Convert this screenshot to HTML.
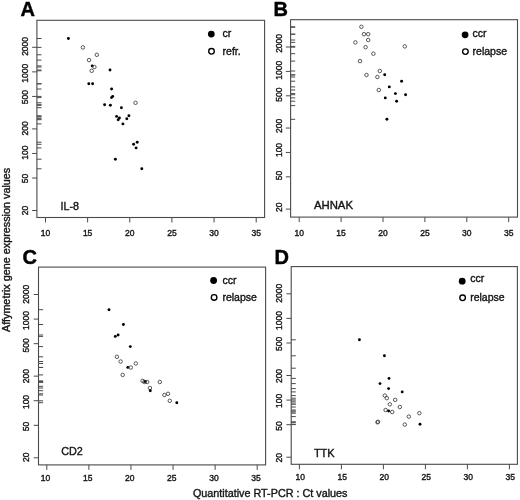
<!DOCTYPE html>
<html><head><meta charset="utf-8"><title>Figure</title>
<style>html,body{margin:0;padding:0;background:#fff;}svg{display:block;will-change:transform;}text{font-family:"Liberation Sans",sans-serif;fill:#161616;stroke:#161616;stroke-width:0.38px;}</style>
</head><body>
<svg width="520" height="500" viewBox="0 0 520 500">
<rect x="0" y="0" width="520" height="500" fill="#fff"/>
<g><rect x="36.9" y="20.3" width="227.7" height="197.2" fill="none" stroke="#4a4a4a" stroke-width="1.1"/><path d="M45.5 217.5V222.5M87.64 217.5V222.5M129.78 217.5V222.5M171.92 217.5V222.5M214.06 217.5V222.5M256.2 217.5V222.5M36.9 47.3H32.1M36.9 71.86H32.1M36.9 96.43H32.1M36.9 128.9H32.1M36.9 153.46H32.1M36.9 178.03H32.1M36.9 210.5H32.1M36.9 38.5H41.5M36.9 47.4H41.5M36.9 54.8H41.5M36.9 60.1H41.5M36.9 65.9H41.5M36.9 67H41.5M36.9 70.8H41.5M36.9 70H41.5M36.9 83.8H41.5M36.9 83.8H41.5M36.9 89H41.5M36.9 96.4H41.5M36.9 97.6H41.5M36.9 104.7H41.5M36.9 105.3H41.5M36.9 102.8H41.5M36.9 107.7H41.5M36.9 116.4H41.5M36.9 118H41.5M36.9 119.7H41.5M36.9 115.8H41.5M36.9 118.8H41.5M36.9 123.9H41.5M36.9 142.2H41.5M36.9 144.3H41.5M36.9 147.9H41.5M36.9 159.2H41.5M36.9 168.8H41.5" stroke="#4a4a4a" stroke-width="1.0" fill="none"/><text x="45.5" y="236.4" font-size="8.5" text-anchor="middle">10</text><text x="87.64" y="236.4" font-size="8.5" text-anchor="middle">15</text><text x="129.78" y="236.4" font-size="8.5" text-anchor="middle">20</text><text x="171.92" y="236.4" font-size="8.5" text-anchor="middle">25</text><text x="214.06" y="236.4" font-size="8.5" text-anchor="middle">30</text><text x="256.2" y="236.4" font-size="8.5" text-anchor="middle">35</text><text transform="translate(28.2 46.4) rotate(-90)" font-size="8.5" text-anchor="middle">2000</text><text transform="translate(28.2 73.2) rotate(-90)" font-size="8.5" text-anchor="middle">1000</text><text transform="translate(28.2 97.1) rotate(-90)" font-size="8.5" text-anchor="middle">500</text><text transform="translate(28.2 128.4) rotate(-90)" font-size="8.5" text-anchor="middle">200</text><text transform="translate(28.2 152.6) rotate(-90)" font-size="8.5" text-anchor="middle">100</text><text transform="translate(28.2 178.5) rotate(-90)" font-size="8.5" text-anchor="middle">50</text><text transform="translate(28.2 210.4) rotate(-90)" font-size="8.5" text-anchor="middle">20</text><circle cx="68.4" cy="38.5" r="1.45" fill="#000"/><circle cx="82.9" cy="47.4" r="1.75" fill="none" stroke="#3c3c3c" stroke-width="0.85"/><circle cx="96.8" cy="54.8" r="1.75" fill="none" stroke="#3c3c3c" stroke-width="0.85"/><circle cx="89" cy="60.1" r="1.75" fill="none" stroke="#3c3c3c" stroke-width="0.85"/><circle cx="92.2" cy="65.9" r="1.45" fill="#000"/><circle cx="94.4" cy="67" r="1.75" fill="none" stroke="#3c3c3c" stroke-width="0.85"/><circle cx="91.7" cy="70.8" r="1.75" fill="none" stroke="#3c3c3c" stroke-width="0.85"/><circle cx="110" cy="70" r="1.45" fill="#000"/><circle cx="88.8" cy="83.8" r="1.45" fill="#000"/><circle cx="92.6" cy="83.8" r="1.45" fill="#000"/><circle cx="111.6" cy="89" r="1.45" fill="#000"/><circle cx="112.7" cy="96.4" r="1.45" fill="#000"/><circle cx="111.5" cy="97.6" r="1.45" fill="#000"/><circle cx="104.6" cy="104.7" r="1.45" fill="#000"/><circle cx="110.4" cy="105.3" r="1.45" fill="#000"/><circle cx="135.5" cy="102.8" r="1.75" fill="none" stroke="#3c3c3c" stroke-width="0.85"/><circle cx="121.4" cy="107.7" r="1.45" fill="#000"/><circle cx="116.6" cy="116.4" r="1.45" fill="#000"/><circle cx="119.4" cy="118" r="1.45" fill="#000"/><circle cx="118.2" cy="119.7" r="1.45" fill="#000"/><circle cx="128.9" cy="115.8" r="1.45" fill="#000"/><circle cx="126.8" cy="118.8" r="1.45" fill="#000"/><circle cx="122.9" cy="123.9" r="1.45" fill="#000"/><circle cx="137.2" cy="142.2" r="1.45" fill="#000"/><circle cx="133.6" cy="144.3" r="1.45" fill="#000"/><circle cx="136.1" cy="147.9" r="1.45" fill="#000"/><circle cx="115.4" cy="159.2" r="1.45" fill="#000"/><circle cx="141.8" cy="168.8" r="1.45" fill="#000"/><circle cx="211.3" cy="34.1" r="3.4" fill="#000"/><circle cx="211.5" cy="51.3" r="2.8" fill="none" stroke="#000" stroke-width="1.35"/><text x="222.6" y="36.6" font-size="10.5">cr</text><text x="222.6" y="55.4" font-size="10.5">refr.</text><text x="60.4" y="210" font-size="10.8" textLength="18.6" lengthAdjust="spacingAndGlyphs">IL-8</text><text x="20.4" y="15.9" font-size="20" font-weight="bold" style="fill:#000;stroke:#000;stroke-width:0.45px">A</text></g>
<g><rect x="290.6" y="19.7" width="226.9" height="197.4" fill="none" stroke="#4a4a4a" stroke-width="1.1"/><path d="M299.2 217.1V222.1M341.1 217.1V222.1M383 217.1V222.1M424.9 217.1V222.1M466.8 217.1V222.1M508.7 217.1V222.1M290.6 47H285.8M290.6 71.4H285.8M290.6 95.8H285.8M290.6 128.05H285.8M290.6 152.45H285.8M290.6 176.85H285.8M290.6 209.1H285.8M290.6 26.8H295.2M290.6 34.2H295.2M290.6 34.2H295.2M290.6 40H295.2M290.6 42.4H295.2M290.6 47.2H295.2M290.6 53.7H295.2M290.6 61.1H295.2M290.6 46.4H295.2M290.6 71H295.2M290.6 74.8H295.2M290.6 75H295.2M290.6 77H295.2M290.6 81.2H295.2M290.6 86.9H295.2M290.6 90H295.2M290.6 93.6H295.2M290.6 94.7H295.2M290.6 97.9H295.2M290.6 101.2H295.2M290.6 119.3H295.2M290.6 105.6H295.2M290.6 27.3H295.2" stroke="#4a4a4a" stroke-width="1.0" fill="none"/><text x="299.2" y="236" font-size="8.5" text-anchor="middle">10</text><text x="341.1" y="236" font-size="8.5" text-anchor="middle">15</text><text x="383" y="236" font-size="8.5" text-anchor="middle">20</text><text x="424.9" y="236" font-size="8.5" text-anchor="middle">25</text><text x="466.8" y="236" font-size="8.5" text-anchor="middle">30</text><text x="508.7" y="236" font-size="8.5" text-anchor="middle">35</text><text transform="translate(281.7 43.4) rotate(-90)" font-size="8.5" text-anchor="middle">2000</text><text transform="translate(281.7 70.3) rotate(-90)" font-size="8.5" text-anchor="middle">1000</text><text transform="translate(281.7 94.7) rotate(-90)" font-size="8.5" text-anchor="middle">500</text><text transform="translate(281.7 125.9) rotate(-90)" font-size="8.5" text-anchor="middle">200</text><text transform="translate(281.7 150) rotate(-90)" font-size="8.5" text-anchor="middle">100</text><text transform="translate(281.7 175.5) rotate(-90)" font-size="8.5" text-anchor="middle">50</text><text transform="translate(281.7 207.3) rotate(-90)" font-size="8.5" text-anchor="middle">20</text><circle cx="361.4" cy="26.8" r="1.75" fill="none" stroke="#3c3c3c" stroke-width="0.85"/><circle cx="364" cy="34.2" r="1.75" fill="none" stroke="#3c3c3c" stroke-width="0.85"/><circle cx="368.2" cy="34.2" r="1.75" fill="none" stroke="#3c3c3c" stroke-width="0.85"/><circle cx="368.2" cy="40" r="1.75" fill="none" stroke="#3c3c3c" stroke-width="0.85"/><circle cx="355.4" cy="42.4" r="1.75" fill="none" stroke="#3c3c3c" stroke-width="0.85"/><circle cx="365.6" cy="47.2" r="1.75" fill="none" stroke="#3c3c3c" stroke-width="0.85"/><circle cx="373.4" cy="53.7" r="1.75" fill="none" stroke="#3c3c3c" stroke-width="0.85"/><circle cx="360" cy="61.1" r="1.75" fill="none" stroke="#3c3c3c" stroke-width="0.85"/><circle cx="404.8" cy="46.4" r="1.75" fill="none" stroke="#3c3c3c" stroke-width="0.85"/><circle cx="379.8" cy="71" r="1.75" fill="none" stroke="#3c3c3c" stroke-width="0.85"/><circle cx="384.7" cy="74.8" r="1.45" fill="#000"/><circle cx="366.5" cy="75" r="1.75" fill="none" stroke="#3c3c3c" stroke-width="0.85"/><circle cx="377.4" cy="77" r="1.75" fill="none" stroke="#3c3c3c" stroke-width="0.85"/><circle cx="401.6" cy="81.2" r="1.45" fill="#000"/><circle cx="389.3" cy="86.9" r="1.45" fill="#000"/><circle cx="378.8" cy="90" r="1.75" fill="none" stroke="#3c3c3c" stroke-width="0.85"/><circle cx="395.4" cy="93.6" r="1.45" fill="#000"/><circle cx="405.6" cy="94.7" r="1.45" fill="#000"/><circle cx="385.3" cy="97.9" r="1.45" fill="#000"/><circle cx="396.6" cy="101.2" r="1.45" fill="#000"/><circle cx="386.9" cy="119.3" r="1.45" fill="#000"/><circle cx="465.1" cy="34.8" r="3.4" fill="#000"/><circle cx="465.4" cy="51.6" r="2.8" fill="none" stroke="#000" stroke-width="1.35"/><text x="472.6" y="37" font-size="10.5">ccr</text><text x="472.6" y="54.5" font-size="10.5">relapse</text><text x="313.9" y="208.8" font-size="10.8" textLength="39.1" lengthAdjust="spacingAndGlyphs">AHNAK</text><text x="273.4" y="16.1" font-size="20" font-weight="bold" style="fill:#000;stroke:#000;stroke-width:0.45px">B</text></g>
<g><rect x="38.5" y="267.1" width="227.1" height="197.8" fill="none" stroke="#4a4a4a" stroke-width="1.1"/><path d="M46.8 464.9V469.9M88.88 464.9V469.9M130.96 464.9V469.9M173.04 464.9V469.9M215.12 464.9V469.9M257.2 464.9V469.9M38.5 294.5H33.7M38.5 319.08H33.7M38.5 343.66H33.7M38.5 376.15H33.7M38.5 400.73H33.7M38.5 425.31H33.7M38.5 457.8H33.7M38.5 309.7H43.1M38.5 324.5H43.1M38.5 336.4H43.1M38.5 335H43.1M38.5 346.6H43.1M38.5 356.8H43.1M38.5 361.5H43.1M38.5 363.5H43.1M38.5 367.4H43.1M38.5 367.5H43.1M38.5 374.9H43.1M38.5 380.9H43.1M38.5 381.9H43.1M38.5 381.8H43.1M38.5 382H43.1M38.5 382H43.1M38.5 388H43.1M38.5 390.7H43.1M38.5 395H43.1M38.5 393.8H43.1M38.5 400.8H43.1M38.5 402.7H43.1M38.5 386.3H43.1" stroke="#4a4a4a" stroke-width="1.0" fill="none"/><text x="45.6" y="480.6" font-size="8.5" text-anchor="middle">10</text><text x="87.68" y="480.6" font-size="8.5" text-anchor="middle">15</text><text x="129.76" y="480.6" font-size="8.5" text-anchor="middle">20</text><text x="171.84" y="480.6" font-size="8.5" text-anchor="middle">25</text><text x="213.92" y="480.6" font-size="8.5" text-anchor="middle">30</text><text x="256" y="480.6" font-size="8.5" text-anchor="middle">35</text><text transform="translate(28.8 294.2) rotate(-90)" font-size="8.5" text-anchor="middle">2000</text><text transform="translate(28.8 320.6) rotate(-90)" font-size="8.5" text-anchor="middle">1000</text><text transform="translate(28.8 345.3) rotate(-90)" font-size="8.5" text-anchor="middle">500</text><text transform="translate(28.8 376.1) rotate(-90)" font-size="8.5" text-anchor="middle">200</text><text transform="translate(28.8 402) rotate(-90)" font-size="8.5" text-anchor="middle">100</text><text transform="translate(28.8 426.5) rotate(-90)" font-size="8.5" text-anchor="middle">50</text><text transform="translate(28.8 457.2) rotate(-90)" font-size="8.5" text-anchor="middle">20</text><circle cx="109" cy="309.7" r="1.45" fill="#000"/><circle cx="123.4" cy="324.5" r="1.45" fill="#000"/><circle cx="115.3" cy="336.4" r="1.45" fill="#000"/><circle cx="118.1" cy="335" r="1.45" fill="#000"/><circle cx="130.3" cy="346.6" r="1.45" fill="#000"/><circle cx="116.9" cy="356.8" r="1.75" fill="none" stroke="#3c3c3c" stroke-width="0.85"/><circle cx="120.6" cy="361.5" r="1.75" fill="none" stroke="#3c3c3c" stroke-width="0.85"/><circle cx="135.8" cy="363.5" r="1.75" fill="none" stroke="#3c3c3c" stroke-width="0.85"/><circle cx="127.8" cy="367.4" r="1.45" fill="#000"/><circle cx="130.8" cy="367.5" r="1.75" fill="none" stroke="#3c3c3c" stroke-width="0.85"/><circle cx="122.7" cy="374.9" r="1.75" fill="none" stroke="#3c3c3c" stroke-width="0.85"/><circle cx="142.6" cy="380.9" r="1.75" fill="none" stroke="#3c3c3c" stroke-width="0.85"/><circle cx="144.4" cy="381.9" r="1.75" fill="none" stroke="#3c3c3c" stroke-width="0.85"/><circle cx="145.3" cy="381.8" r="1.45" fill="#000"/><circle cx="147.2" cy="382" r="1.75" fill="none" stroke="#3c3c3c" stroke-width="0.85"/><circle cx="159.8" cy="382" r="1.75" fill="none" stroke="#3c3c3c" stroke-width="0.85"/><circle cx="149.9" cy="388" r="1.75" fill="none" stroke="#3c3c3c" stroke-width="0.85"/><circle cx="150.3" cy="390.7" r="1.45" fill="#000"/><circle cx="164.4" cy="395" r="1.75" fill="none" stroke="#3c3c3c" stroke-width="0.85"/><circle cx="168" cy="393.8" r="1.75" fill="none" stroke="#3c3c3c" stroke-width="0.85"/><circle cx="169.8" cy="400.8" r="1.75" fill="none" stroke="#3c3c3c" stroke-width="0.85"/><circle cx="176.8" cy="402.7" r="1.45" fill="#000"/><circle cx="213.6" cy="280.5" r="3.4" fill="#000"/><circle cx="214.1" cy="297.4" r="2.8" fill="none" stroke="#000" stroke-width="1.35"/><text x="222.4" y="283.7" font-size="10.5">ccr</text><text x="222.4" y="301" font-size="10.5">relapse</text><text x="61.2" y="454.6" font-size="10.8" textLength="21.6" lengthAdjust="spacingAndGlyphs">CD2</text><text x="22.4" y="264.4" font-size="20" font-weight="bold" style="fill:#000;stroke:#000;stroke-width:0.45px">C</text></g>
<g><rect x="291.2" y="266.6" width="226.2" height="197.7" fill="none" stroke="#4a4a4a" stroke-width="1.1"/><path d="M299.4 464.3V469.3M341.4 464.3V469.3M383.4 464.3V469.3M425.4 464.3V469.3M467.4 464.3V469.3M509.4 464.3V469.3M291.2 293.8H286.4M291.2 318.39H286.4M291.2 342.99H286.4M291.2 375.5H286.4M291.2 400.09H286.4M291.2 424.69H286.4M291.2 457.2H286.4M291.2 339.8H295.8M291.2 355.8H295.8M291.2 378.4H295.8M291.2 383.6H295.8M291.2 388.6H295.8M291.2 391.9H295.8M291.2 395.6H295.8M291.2 398.2H295.8M291.2 399.9H295.8M291.2 404.3H295.8M291.2 407H295.8M291.2 410H295.8M291.2 411H295.8M291.2 412H295.8M291.2 416.6H295.8M291.2 413.2H295.8M291.2 421.8H295.8M291.2 422.3H295.8M291.2 424.6H295.8M291.2 424.2H295.8M291.2 401.2H295.8M291.2 403H295.8M291.2 368.2H295.8" stroke="#4a4a4a" stroke-width="1.0" fill="none"/><text x="300.2" y="480.2" font-size="8.5" text-anchor="middle">10</text><text x="342.2" y="480.2" font-size="8.5" text-anchor="middle">15</text><text x="384.2" y="480.2" font-size="8.5" text-anchor="middle">20</text><text x="426.2" y="480.2" font-size="8.5" text-anchor="middle">25</text><text x="468.2" y="480.2" font-size="8.5" text-anchor="middle">30</text><text x="510.2" y="480.2" font-size="8.5" text-anchor="middle">35</text><text transform="translate(281.8 293.2) rotate(-90)" font-size="8.5" text-anchor="middle">2000</text><text transform="translate(281.8 320.6) rotate(-90)" font-size="8.5" text-anchor="middle">1000</text><text transform="translate(281.8 343.8) rotate(-90)" font-size="8.5" text-anchor="middle">500</text><text transform="translate(281.8 376) rotate(-90)" font-size="8.5" text-anchor="middle">200</text><text transform="translate(281.8 400.8) rotate(-90)" font-size="8.5" text-anchor="middle">100</text><text transform="translate(281.8 426) rotate(-90)" font-size="8.5" text-anchor="middle">50</text><text transform="translate(281.8 457.7) rotate(-90)" font-size="8.5" text-anchor="middle">20</text><circle cx="359.4" cy="339.8" r="1.45" fill="#000"/><circle cx="384.4" cy="355.8" r="1.45" fill="#000"/><circle cx="389" cy="378.4" r="1.45" fill="#000"/><circle cx="380" cy="383.6" r="1.45" fill="#000"/><circle cx="388.6" cy="388.6" r="1.45" fill="#000"/><circle cx="402.2" cy="391.9" r="1.45" fill="#000"/><circle cx="384.8" cy="395.6" r="1.75" fill="none" stroke="#3c3c3c" stroke-width="0.85"/><circle cx="386.8" cy="398.2" r="1.75" fill="none" stroke="#3c3c3c" stroke-width="0.85"/><circle cx="395.2" cy="399.9" r="1.75" fill="none" stroke="#3c3c3c" stroke-width="0.85"/><circle cx="389.8" cy="404.3" r="1.75" fill="none" stroke="#3c3c3c" stroke-width="0.85"/><circle cx="399.8" cy="407" r="1.75" fill="none" stroke="#3c3c3c" stroke-width="0.85"/><circle cx="385.6" cy="410" r="1.75" fill="none" stroke="#3c3c3c" stroke-width="0.85"/><circle cx="388.6" cy="411" r="1.45" fill="#000"/><circle cx="392.2" cy="412" r="1.75" fill="none" stroke="#3c3c3c" stroke-width="0.85"/><circle cx="408.8" cy="416.6" r="1.75" fill="none" stroke="#3c3c3c" stroke-width="0.85"/><circle cx="419.4" cy="413.2" r="1.75" fill="none" stroke="#3c3c3c" stroke-width="0.85"/><circle cx="378" cy="421.8" r="1.75" fill="none" stroke="#3c3c3c" stroke-width="0.85"/><circle cx="377.5" cy="422.3" r="1.75" fill="none" stroke="#3c3c3c" stroke-width="0.85"/><circle cx="404.8" cy="424.6" r="1.75" fill="none" stroke="#3c3c3c" stroke-width="0.85"/><circle cx="420" cy="424.2" r="1.45" fill="#000"/><circle cx="462.2" cy="281.2" r="3.4" fill="#000"/><circle cx="462.6" cy="297.8" r="2.8" fill="none" stroke="#000" stroke-width="1.35"/><text x="470.2" y="282" font-size="10.5">ccr</text><text x="470.2" y="301" font-size="10.5">relapse</text><text x="313.9" y="457.3" font-size="10.8" textLength="20.8" lengthAdjust="spacingAndGlyphs">TTK</text><text x="274.4" y="264.2" font-size="20" font-weight="bold" style="fill:#000;stroke:#000;stroke-width:0.45px">D</text></g>
<text transform="translate(9.9 249.9) rotate(-90)" font-size="10.8" text-anchor="middle">Affymetrix gene expression values</text>
<text x="270.2" y="496.8" font-size="10.8" text-anchor="middle">Quantitative RT-PCR : Ct values</text>
</svg>
</body></html>
